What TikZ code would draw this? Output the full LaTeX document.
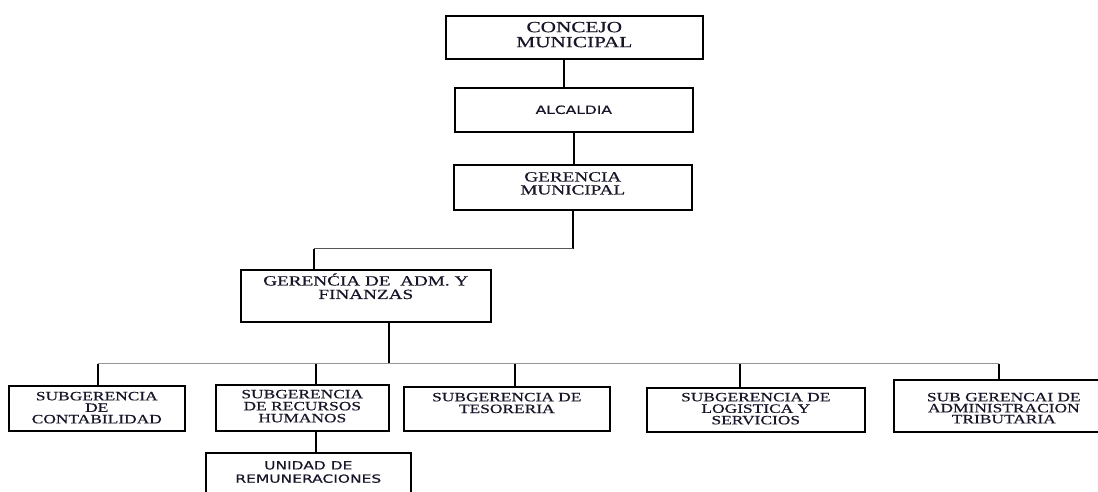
\documentclass[tikz,border=0pt]{standalone}
\usepackage{fontspec}
\newfontfamily\serifx[FakeStretch=1.37,FakeBold=0.5]{Liberation Serif}
\newfontfamily\sansx[FakeStretch=1.37,FakeBold=0.5]{DejaVu Sans}
\definecolor{inkc}{RGB}{22,22,40}
\definecolor{busgray}{RGB}{150,150,150}
\definecolor{linkgray}{RGB}{85,85,85}

\begin{document}
\begin{tikzpicture}[x=1pt,y=-1pt,
  unitbox/.style={draw=black, line width=1.6pt, rectangle, inner sep=0pt, anchor=north west},
  caption/.style={anchor=north, inner sep=0pt, align=center, text=inkc},
  conn/.style={draw=black, line width=1.8pt},
  busline/.style={draw=busgray, line width=1.2pt},
  linkline/.style={draw=linkgray, line width=1.3pt}]
\useasboundingbox (0,0) rectangle (1098,491);
\clip (0,0) rectangle (1098,491);

% ---- boxes ----
\node[unitbox, minimum width=257pt, minimum height=43pt] (concejo)  at (445,15)  {};
\node[unitbox, minimum width=238pt, minimum height=44pt] (alcaldia) at (454,87)  {};
\node[unitbox, minimum width=238pt, minimum height=45pt] (gerencia) at (453,164) {};
\node[unitbox, minimum width=250pt, minimum height=52pt] (geradm)   at (240,269) {};
\node[unitbox, minimum width=176pt, minimum height=45pt] (contab)   at (8,385)   {};
\node[unitbox, minimum width=173pt, minimum height=46pt] (rrhh)     at (215,384) {};
\node[unitbox, minimum width=206pt, minimum height=44pt] (teso)     at (403,386) {};
\node[unitbox, minimum width=218pt, minimum height=44pt] (logis)    at (646,387) {};
\node[unitbox, minimum width=220pt, minimum height=52pt] (tribut)   at (893,379) {};
\node[unitbox, minimum width=205pt, minimum height=60pt] (unidad)   at (205,452) {};

% ---- texts ----
\node[caption, font=\fontsize{15.5}{15}\serifx] (concejo-t) at ([yshift=-6.7pt]concejo.north)
  {CONCEJO\\MUNICIPAL};
\node[caption, font=\fontsize{11.3}{13}\sansx] (alcaldia-t) at ([yshift=-18.3pt]alcaldia.north)
  {ALCALDIA};
\node[caption, font=\fontsize{14}{13}\serifx] (gerencia-t) at ([yshift=-8pt]gerencia.north)
  {GERENCIA\\MUNICIPAL};
\node[caption, font=\fontsize{14}{13.5}\serifx] (geradm-t) at ([yshift=-7pt]geradm.north)
  {GEREN\smash{Ć}IA DE\ \ ADM. Y\\FINANZAS};
\node[caption, font=\fontsize{12.7}{11.5}\serifx] (contab-t) at ([yshift=-6.7pt]contab.north)
  {SUBGERENCIA\\DE\\CONTABILIDAD};
\node[caption, font=\fontsize{12.7}{12}\serifx] (rrhh-t) at ([yshift=-5.7pt]rrhh.north)
  {SUBGERENCIA\\DE RECURSOS\\HUMANOS};
\node[caption, font=\fontsize{12.7}{11.7}\serifx] (teso-t) at ([yshift=-6.7pt]teso.north)
  {SUBGERENCIA DE\\TESORERIA};
\node[caption, font=\fontsize{12.7}{11.5}\serifx] (logis-t) at ([yshift=-5.7pt]logis.north)
  {SUBGERENCIA DE\\LOGISTICA Y\\SERVICIOS};
\node[caption, font=\fontsize{12.7}{11}\serifx] (tribut-t) at ([yshift=-13.7pt]tribut.north)
  {SUB GERENCAI DE\\ADMINISTRACION\\TRIBUTARIA};
\node[caption, font=\fontsize{11.3}{13.3}\sansx] (unidad-t) at ([yshift=-9pt]unidad.north)
  {UNIDAD DE\\REMUNERACIONES};

% ---- connector points ----
\coordinate (concejoOut) at ([xshift=-10.5pt]concejo.south);
\coordinate (elbowR)     at ([yshift=-38pt]gerencia.south);
\coordinate (admIn)      at ([xshift=-52pt]geradm.north);
\coordinate (admOut)     at ([xshift=23pt]geradm.south);
\coordinate (busC)       at ([yshift=-41pt]admOut);
\coordinate (contabIn)   at ([xshift=1pt]contab.north);
\coordinate (rrhhIn)     at ([xshift=13.5pt]rrhh.north);
\coordinate (rrhhOut)    at ([xshift=13.5pt]rrhh.south);
\coordinate (tesoIn)     at ([xshift=8pt]teso.north);
\coordinate (logisIn)    at ([xshift=-16pt]logis.north);
\coordinate (tributIn)   at ([xshift=-5pt]tribut.north);

% ---- connectors ----
\draw[conn] (concejoOut) -- (concejoOut |- alcaldia.north);
\draw[conn] (alcaldia.south) -- (alcaldia.south |- gerencia.north);
\draw[conn] (gerencia.south) -- (elbowR);
\draw[linkline] (elbowR) -- (elbowR -| admIn);
\draw[conn] (elbowR -| admIn) -- (admIn);
\draw[conn] (admOut) -- (busC);
\draw[busline] (contabIn |- busC) -- (tributIn |- busC);
\draw[conn] (contabIn |- busC) -- (contabIn);
\draw[conn] (rrhhIn |- busC) -- (rrhhIn);
\draw[conn] (tesoIn |- busC) -- (tesoIn);
\draw[conn] (logisIn |- busC) -- (logisIn);
\draw[conn] (tributIn |- busC) -- (tributIn);
\draw[conn] (rrhhOut) -- (rrhhOut |- unidad.north);
\end{tikzpicture}
\end{document}
